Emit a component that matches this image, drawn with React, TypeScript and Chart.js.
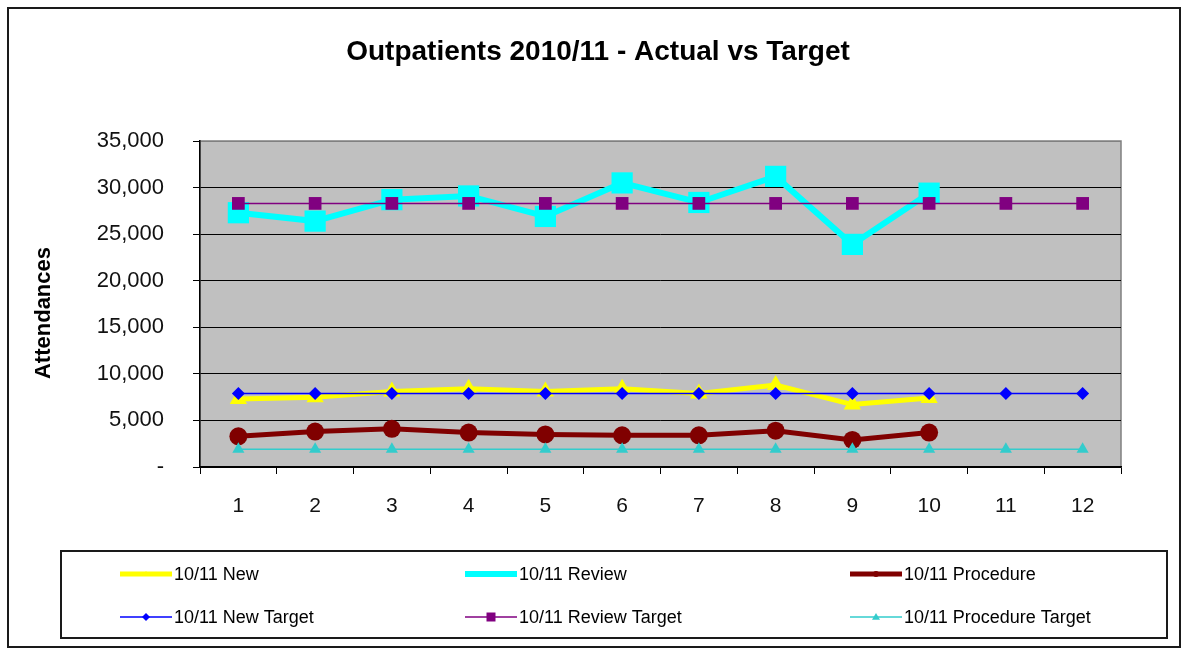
import React, { useEffect, useRef } from "react";
import { Chart, registerables } from "chart.js";

Chart.register(...registerables);

const months = ["1", "2", "3", "4", "5", "6", "7", "8", "9", "10", "11", "12"];
const newActual = [7300, 7500, 8100, 8400, 8100, 8400, 7900, 8800, 6700, 7400];
const reviewActual = [27300, 26400, 28700, 29100, 26900, 30500, 28400, 31200, 23900, 29400];
const procedureActual = [3300, 3800, 4100, 3700, 3500, 3400, 3400, 3900, 2900, 3700];
const newTarget = [7900, 7900, 7900, 7900, 7900, 7900, 7900, 7900, 7900, 7900, 7900, 7900];
const reviewTarget = [28300, 28300, 28300, 28300, 28300, 28300, 28300, 28300, 28300, 28300, 28300, 28300];
const procedureTarget = [1900, 1900, 1900, 1900, 1900, 1900, 1900, 1900, 1900, 1900, 1900, 1900];

const FONT = "'Liberation Sans', Arial, sans-serif";

function drawMarker(ctx: CanvasRenderingContext2D, style: string, x: number, y: number, r: number, color: string) {
  ctx.save();
  ctx.fillStyle = color;
  ctx.beginPath();
  if (style === "circle") {
    ctx.arc(x, y, r, 0, Math.PI * 2);
  } else if (style === "rect") {
    ctx.rect(x - r, y - r, 2 * r, 2 * r);
  } else if (style === "rectRot") {
    ctx.moveTo(x, y - r);
    ctx.lineTo(x + r, y);
    ctx.lineTo(x, y + r);
    ctx.lineTo(x - r, y);
    ctx.closePath();
  } else if (style === "triangle") {
    ctx.moveTo(x, y - r);
    ctx.lineTo(x + r, y + r * 0.7);
    ctx.lineTo(x - r, y + r * 0.7);
    ctx.closePath();
  }
  ctx.fill();
  ctx.restore();
}

const legendMarks: Record<string, number> = {
  "10/11 New": 3,
  "10/11 Review": 3,
  "10/11 Procedure": 3,
  "10/11 New Target": 4,
  "10/11 Review Target": 4.5,
  "10/11 Procedure Target": 4,
};

const decorPlugin = {
  id: "decor",
  beforeDraw(chart: any) {
    const ctx = chart.ctx as CanvasRenderingContext2D;
    const { left, top, right, bottom } = chart.chartArea;
    ctx.save();
    ctx.fillStyle = "#ffffff";
    ctx.fillRect(0, 0, chart.width, chart.height);
    ctx.strokeStyle = "#1a1a1a";
    ctx.lineWidth = 2;
    ctx.strokeRect(8, 8, 1172, 639);
    ctx.fillStyle = "#c0c0c0";
    ctx.fillRect(left, top, right - left, bottom - top);
    ctx.strokeStyle = "#808080";
    ctx.lineWidth = 1.5;
    ctx.strokeRect(left, top, right - left, bottom - top);
    // title
    ctx.fillStyle = "#000";
    ctx.font = `bold 28px ${FONT}`;
    ctx.textAlign = "center";
    ctx.textBaseline = "alphabetic";
    ctx.fillText("Outpatients 2010/11 - Actual vs Target", 598, 60);
    // y title
    ctx.translate(44, 313);
    ctx.rotate(-Math.PI / 2);
    ctx.font = `bold 22px ${FONT}`;
    ctx.textBaseline = "middle";
    ctx.fillText("Attendances", 0, 0);
    ctx.restore();
  },
  afterDraw(chart: any) {
    const ctx = chart.ctx as CanvasRenderingContext2D;
    ctx.save();
    ctx.strokeStyle = "#1a1a1a";
    ctx.lineWidth = 2;
    ctx.strokeRect(61, 551, 1106, 87);
    const colX = [120, 465, 850];
    const rowY = [574, 617];
    chart.data.datasets.forEach((ds: any, i: number) => {
      const x0 = colX[i % 3];
      const y = rowY[Math.floor(i / 3)];
      ctx.strokeStyle = ds.borderColor;
      ctx.lineWidth = ds.borderWidth;
      ctx.beginPath();
      ctx.moveTo(x0, y);
      ctx.lineTo(x0 + 52, y);
      ctx.stroke();
      drawMarker(ctx, ds.pointStyle, x0 + 26, y, legendMarks[ds.label] || 3, ds.pointBackgroundColor);
      ctx.fillStyle = "#000";
      ctx.font = `18px ${FONT}`;
      ctx.textAlign = "left";
      ctx.textBaseline = "middle";
      ctx.fillText(ds.label, x0 + 54, y + 1);
    });
    ctx.restore();
  },
};

export default function App() {
  const ref = useRef<HTMLCanvasElement | null>(null);
  useEffect(() => {
    if (!ref.current) return;
    const mk = (label: string, data: number[], color: string, width: number, style: string, radius: number, order: number) => ({
      label,
      data,
      borderColor: color,
      backgroundColor: color,
      pointBackgroundColor: color,
      pointBorderColor: color,
      pointBorderWidth: 0,
      borderWidth: width,
      pointStyle: style,
      pointRadius: radius,
      pointHoverRadius: radius,
      tension: 0,
      fill: false,
      order,
    });
    const chart = new Chart(ref.current, {
      type: "line",
      data: {
        labels: months,
        datasets: [
          mk("10/11 New", newActual, "#ffff00", 5, "triangle", 10, 2),
          mk("10/11 Review", reviewActual, "#00ffff", 6, "rect", 15, 2),
          mk("10/11 Procedure", procedureActual, "#800000", 5, "circle", 9, 2),
          mk("10/11 New Target", newTarget, "#0000ff", 1.5, "rectRot", 6.5, 1),
          mk("10/11 Review Target", reviewTarget, "#800080", 1.5, "rect", 9, 1),
          mk("10/11 Procedure Target", procedureTarget, "#33cccc", 1.5, "triangle", 7, 1),
        ] as any,
      },
      options: {
        animation: false,
        responsive: false,
        layout: { padding: { left: 0, right: 62, top: 141, bottom: 0 } },
        plugins: { legend: { display: false }, title: { display: false }, tooltip: { enabled: false } },
        scales: {
          x: {
            type: "category",
            offset: true,
            grid: { display: true, offset: true, drawOnChartArea: false, drawTicks: true, tickLength: 7, color: "#000", lineWidth: 1 },
            border: { display: true, color: "#000", width: 1.5 },
            ticks: { color: "#111", font: { family: FONT, size: 21 }, padding: 20, maxRotation: 0, autoSkip: false },
            afterFit: (s: any) => { s.height = 183; },
          },
          y: {
            min: 0,
            max: 35000,
            grid: {
              color: (c: any) => (c.tick && c.tick.value === 35000 ? "#808080" : "#000"),
              tickColor: "#000",
              lineWidth: 1,
              tickLength: 7,
            },
            border: { display: true, color: "#000", width: 1.5 },
            ticks: {
              stepSize: 5000,
              color: "#111",
              font: { family: FONT, size: 22 },
              padding: 29,
              callback: (v: any) => (Number(v) === 0 ? "-" : Number(v).toLocaleString("en-US")),
            },
            afterFit: (s: any) => { s.width = 200; },
          },
        },
      } as any,
      plugins: [decorPlugin],
    });
    return () => chart.destroy();
  }, []);
  return (
    <div style={{ position: "absolute", left: 0, top: 0, width: 1183, height: 650 }}>
      <canvas ref={ref} width={1183} height={650} />
    </div>
  );
}
